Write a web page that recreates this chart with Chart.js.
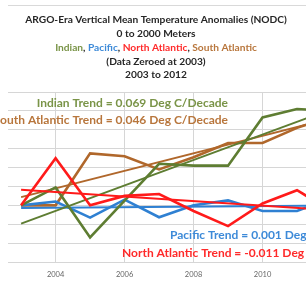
<!DOCTYPE html>
<html><head><meta charset="utf-8">
<script src="https://cdn.jsdelivr.net/npm/chart.js@4"></script>
<style>html,body{margin:0;padding:0;background:#fff;overflow:hidden}#c{display:block}</style>
</head><body>
<canvas id="c" width="306" height="283"></canvas>
<script>
// ---- data ----
const years = [2003, 2004, 2005, 2006, 2007, 2008, 2009, 2010, 2011, 2012];
const indian = [0, 0.0095, -0.017, 0.0025, 0.022, 0.021, 0.021, 0.0465, 0.051, 0.05];
const pacific = [0, 0.002, -0.0065, 0.003, -0.0063, 0, 0.0026, -0.003, -0.003, 0.004];
const northAtlantic = [0, 0.025, 0, 0.005, 0.006, -0.003, -0.011, 0.001, 0.008, -0.003];
const southAtlantic = [0, 0, 0.0275, 0.026, 0.019, 0.0255, 0.033, 0.033, 0.041, 0.047];
const xTickLabels = [2004, 2006, 2008, 2010];
const yGridValues = [-0.03, -0.02, -0.01, 0, 0.01, 0.02, 0.03, 0.04, 0.05, 0.06];
const titleLines = ["ARGO-Era Vertical Mean Temperature Anomalies (NODC)", "0 to 2000 Meters", "", "(Data Zeroed at 2003)", "2003 to 2012"];
const seriesNames = ["Indian", "Pacific", "North Atlantic", "South Atlantic"];
const trendLabels = ["Indian Trend = 0.069 Deg C/Decade", "South Atlantic Trend = 0.046 Deg C/Decade", "Pacific Trend = 0.001 Deg C/Decade", "North Atlantic Trend = -0.011 Deg C/Decade"];

const C = { indian: '#5e7d32', pacific: '#2f80d2', na: '#ff1a1a', sa: '#b0672b' };
const TXT = { indian: '#7a9448', pacific: '#3d8ad8', na: '#ff2a2a', sa: '#b8763c' };

function pts(ys) { return years.map((x, i) => ({ x, y: ys[i] })); }
// least-squares trend line (Excel linear trendline)
function trend(ys) {
  const n = ys.length, mx = years.reduce((a, b) => a + b, 0) / n, my = ys.reduce((a, b) => a + b, 0) / n;
  let sxy = 0, sxx = 0;
  years.forEach((x, i) => { sxy += (x - mx) * (ys[i] - my); sxx += (x - mx) * (x - mx); });
  const b = sxy / sxx;
  return [years[0], years[n - 1]].map(x => ({ x, y: my + b * (x - mx) }));
}
function line(data, color, w) {
  return { data, borderColor: color, backgroundColor: color, borderWidth: w, showLine: true, pointRadius: 0, pointHoverRadius: 0, tension: 0, fill: false };
}

const FONT = 'Lato, "DejaVu Sans", sans-serif';

const decor = {
  id: 'decor',
  beforeDraw(chart) {
    const ctx = chart.ctx;
    ctx.save();
    ctx.strokeStyle = '#d9d9d9'; ctx.lineWidth = 1;
    ctx.beginPath(); ctx.moveTo(8, 5.5); ctx.lineTo(306, 5.5); ctx.stroke();
    ctx.textBaseline = 'middle';
    ctx.font = 'bold 10.2px ' + FONT;
    const cx = 156, ys = [19.5, 33.5, 47.5, 61.5, 75];
    ctx.fillStyle = '#262626'; ctx.textAlign = 'center';
    titleLines.forEach((t, i) => { if (t) ctx.fillText(t, cx, ys[i]); });
    // colored legend line
    const segs = [[seriesNames[0], TXT.indian], [', ', '#262626'], [seriesNames[1], TXT.pacific], [', ', '#262626'], [seriesNames[2], TXT.na], [', ', '#262626'], [seriesNames[3], TXT.sa]];
    const total = segs.reduce((a, s) => a + ctx.measureText(s[0]).width, 0);
    let x = cx - total / 2;
    ctx.textAlign = 'left';
    segs.forEach(s => { ctx.fillStyle = s[1]; ctx.fillText(s[0], x, ys[2]); x += ctx.measureText(s[0]).width; });
    ctx.restore();
  },
  afterDatasetsDraw(chart) {
    const ctx = chart.ctx;
    ctx.save();
    ctx.font = 'bold 12px ' + FONT;
    ctx.textBaseline = 'middle';
    ctx.textAlign = 'right';
    ctx.fillStyle = TXT.indian; ctx.fillText(trendLabels[0], 228, 103);
    ctx.fillStyle = TXT.sa; ctx.fillText(trendLabels[1], 228, 120);
    ctx.textAlign = 'left';
    ctx.fillStyle = TXT.pacific; ctx.fillText(trendLabels[2], 170, 235);
    ctx.fillStyle = TXT.na; ctx.fillText(trendLabels[3], 122, 253);
    ctx.restore();
  }
};

new Chart(document.getElementById('c'), {
  type: 'scatter',
  data: {
    datasets: [
      line(pts(northAtlantic), C.na, 2.6),
      line(trend(northAtlantic), C.na, 2),
      line(pts(indian), C.indian, 2.6),
      line(trend(indian), C.indian, 2),
      line(pts(pacific), C.pacific, 2.6),
      line(trend(pacific), C.pacific, 2),
      line(pts(southAtlantic), C.sa, 2.6),
      line(trend(southAtlantic), C.sa, 2)
    ]
  },
  options: {
    responsive: false,
    animation: false,
    events: [],
    layout: { padding: { top: 92, left: 8, right: 0, bottom: 0 } },
    plugins: { legend: { display: false }, title: { display: false }, tooltip: { enabled: false } },
    scales: {
      x: {
        type: 'linear', min: 2002.62, max: 2011.26,
        afterBuildTicks: s => { s.ticks = xTickLabels.map(v => ({ value: v })); },
        afterFit: s => { s.height = 21; },
        grid: { color: '#d6d6d6', lineWidth: 1, drawTicks: false },
        border: { display: false },
        ticks: { font: { size: 7.5, family: FONT }, color: '#666', padding: 8, maxRotation: 0, autoSkip: false, callback: v => String(v) }
      },
      y: {
        min: -0.03, max: 0.06,
        afterBuildTicks: s => { s.ticks = yGridValues.map(v => ({ value: v })); },
        afterFit: s => { s.width = 0; },
        grid: { color: '#d6d6d6', lineWidth: 1, drawTicks: false },
        border: { display: false },
        ticks: { display: false }
      }
    }
  },
  plugins: [decor]
});
</script>
</body></html>
